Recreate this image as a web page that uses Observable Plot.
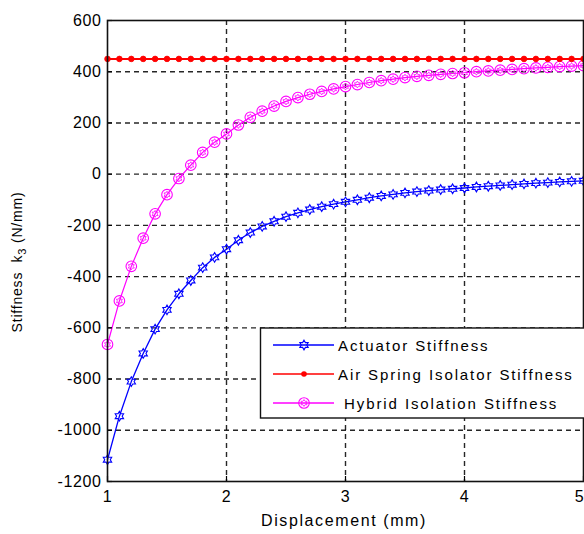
<!DOCTYPE html>
<html>
<head>
<meta charset="utf-8">
<script src="https://cdn.jsdelivr.net/npm/d3@7"></script>
<script src="https://cdn.jsdelivr.net/npm/@observablehq/plot@0.6"></script>
<style>
  body { margin: 0; background: #fff; overflow: hidden; }
  #chart { width: 584px; height: 534px; overflow: hidden; }
  svg text { font-family: "Liberation Sans", Arial, sans-serif; }
</style>
</head>
<body>
<div id="chart"></div>
<script>
// ---- data ----
const displacement = [1.0,1.1,1.2,1.3,1.4,1.5,1.6,1.7,1.8,1.9,2.0,2.1,2.2,2.3,2.4,2.5,2.6,2.7,2.8,2.9,3.0,3.1,3.2,3.3,3.4,3.5,3.6,3.7,3.8,3.9,4.0,4.1,4.2,4.3,4.4,4.5,4.6,4.7,4.8,4.9,5.0];
const actuatorStiffness = [-1115,-945,-810,-700,-605,-530,-467,-415,-365,-325,-293,-258,-228,-204,-184,-166,-151,-138,-127,-117,-108,-100,-92,-85,-79,-73,-68,-64,-60,-57,-54,-50,-47,-44,-41,-38,-35,-33,-30,-28,-26];
const airSpringStiffness = [450,450,450,450,450,450,450,450,450,450,450,450,450,450,450,450,450,450,450,450,450,450,450,450,450,450,450,450,450,450,450,450,450,450,450,450,450,450,450,450,450];
const hybridStiffness = [-665,-495,-360,-250,-155,-80,-17,35,85,125,157,192,222,246,266,284,299,312,323,333,342,350,358,365,371,377,382,386,390,393,396,400,403,406,409,412,415,417,420,422,424];
const xTicks = [1,2,3,4,5];
const yTicks = [-1200,-1000,-800,-600,-400,-200,0,200,400,600];
const seriesNames = ["Actuator Stiffness","Air Spring Isolator Stiffness"," Hybrid Isolation Stiffness"];
const seriesColors = ["#0000ff","#ff0000","#ff00ff"];

const actuator = displacement.map((x,i)=>({x, y: actuatorStiffness[i]}));
const air = displacement.map((x,i)=>({x, y: airSpringStiffness[i]}));
const hybrid = displacement.map((x,i)=>({x, y: hybridStiffness[i]}));

// hexagram (Matlab 'h') symbol
const hexagram = {
  draw(ctx, size) {
    const R = Math.sqrt(size / Math.PI) * 1.15;
    const r = R / Math.sqrt(3);
    for (let k = 0; k < 12; k++) {
      const rad = k % 2 === 0 ? R : r;
      const a = -Math.PI / 2 + k * Math.PI / 6;
      const px = rad * Math.cos(a), py = rad * Math.sin(a);
      if (k === 0) ctx.moveTo(px, py); else ctx.lineTo(px, py);
    }
    ctx.closePath();
  }
};

const grid = {stroke: "#000", strokeOpacity: 0.85, strokeWidth: 1.4, strokeDasharray: "5,4"};
const fmt = d => String(d);

const chart = Plot.plot({
  width: 584,
  height: 534,
  marginLeft: 107,
  marginRight: 1,
  marginTop: 20,
  marginBottom: 53,
  style: {fontSize: "16px", fontFamily: "Liberation Sans, Arial, sans-serif", overflow: "visible"},
  x: {domain: [1, 5]},
  y: {domain: [-1200, 600]},
  marks: [
    Plot.gridX(xTicks.slice(1, -1), grid),
    Plot.gridY(yTicks.slice(1, -1), grid),
    Plot.line(actuator, {x: "x", y: "y", stroke: seriesColors[0], strokeWidth: 1.3}),
    Plot.dot(actuator, {x: "x", y: "y", symbol: hexagram, r: 4.2, stroke: seriesColors[0], strokeWidth: 1.1, fill: "none"}),
    Plot.line(hybrid, {x: "x", y: "y", stroke: seriesColors[2], strokeWidth: 1.2}),
    Plot.dot(hybrid, {x: "x", y: "y", r: 5.3, stroke: seriesColors[2], strokeWidth: 1.1, fill: "none"}),
    Plot.dot(hybrid, {x: "x", y: "y", symbol: hexagram, r: 3, stroke: seriesColors[2], strokeWidth: 0.8, fill: "none"}),
    Plot.line(air, {x: "x", y: "y", stroke: seriesColors[1], strokeWidth: 2}),
    Plot.dot(air, {x: "x", y: "y", r: 2.8, fill: seriesColors[1], stroke: seriesColors[1], strokeWidth: 0.8}),
    Plot.axisX(xTicks, {tickSize: 0, tickPadding: 9, label: null, fill: "#000", fontSize: 16, tickFormat: fmt}),
    Plot.axisX(xTicks, {tickSize: -5, tickFormat: () => "", label: null, strokeWidth: 1.2}),
    Plot.axisY(yTicks, {tickSize: 0, tickPadding: 6, label: null, fill: "#000", fontSize: 16, tickFormat: fmt}),
    Plot.axisY(yTicks, {tickSize: -5, tickFormat: () => "", label: null, strokeWidth: 1.2}),
    Plot.frame({stroke: "#111", strokeWidth: 1.6})
  ]
});
document.getElementById("chart").appendChild(chart);

const svg = d3.select(chart);
svg.selectAll("g[aria-label='x-axis tick label'] text, g[aria-label='y-axis tick label'] text")
  .style("letter-spacing", "0.6px");
// keep the last x tick label ("5") inside the picture
svg.selectAll("g[aria-label='x-axis tick label'] text")
  .filter(function() { return this.textContent === "5"; })
  .attr("dx", -4);

// axis titles
svg.append("text")
  .attr("x", 344).attr("y", 526)
  .attr("text-anchor", "middle")
  .style("font-size", "16px").style("letter-spacing", "1.6px")
  .attr("fill", "#000")
  .text("Displacement (mm)");

const yl = svg.append("text")
  .attr("transform", "translate(22,262) rotate(-90)")
  .attr("text-anchor", "middle")
  .style("font-size", "14px").style("letter-spacing", "0.8px")
  .attr("fill", "#000");
yl.append("tspan").text("Stiffness  k").style("white-space", "pre");
yl.append("tspan").attr("dy", 4).style("font-size", "11px").text("3");
yl.append("tspan").attr("dy", -4).text(" (N/mm)").style("white-space", "pre");

// legend
const lg = svg.append("g").attr("text-anchor", "start");
lg.append("rect").attr("x", 260.5).attr("y", 328).attr("width", 340).attr("height", 90)
  .attr("fill", "#fff").attr("stroke", "#111").attr("stroke-width", 1.4);
const rowsY = [345, 374, 403];
seriesNames.forEach((name, i) => {
  const y = rowsY[i];
  lg.append("line").attr("x1", 273).attr("x2", 334).attr("y1", y).attr("y2", y)
    .attr("stroke", seriesColors[i]).attr("stroke-width", i === 1 ? 1.6 : 1.3);
  lg.append("text").attr("x", 338).attr("y", y + 5.5)
    .attr("text-anchor", "start")
    .style("font-size", "15px").style("letter-spacing", "1.9px").style("white-space", "pre")
    .attr("fill", "#000")
    .text(name);
});
const hexPath = (r) => { const p = d3.path(); hexagram.draw(p, r * r * Math.PI); return p.toString(); };
lg.append("path").attr("transform", `translate(304,${rowsY[0]})`).attr("d", hexPath(4.2))
  .attr("fill", "none").attr("stroke", seriesColors[0]).attr("stroke-width", 1.1);
lg.append("circle").attr("cx", 304).attr("cy", rowsY[1]).attr("r", 2.8).attr("fill", seriesColors[1]);
lg.append("circle").attr("cx", 304).attr("cy", rowsY[2]).attr("r", 5.3)
  .attr("fill", "none").attr("stroke", seriesColors[2]).attr("stroke-width", 1.1);
lg.append("path").attr("transform", `translate(304,${rowsY[2]})`).attr("d", hexPath(3))
  .attr("fill", "none").attr("stroke", seriesColors[2]).attr("stroke-width", 0.8);
</script>
</body>
</html>
